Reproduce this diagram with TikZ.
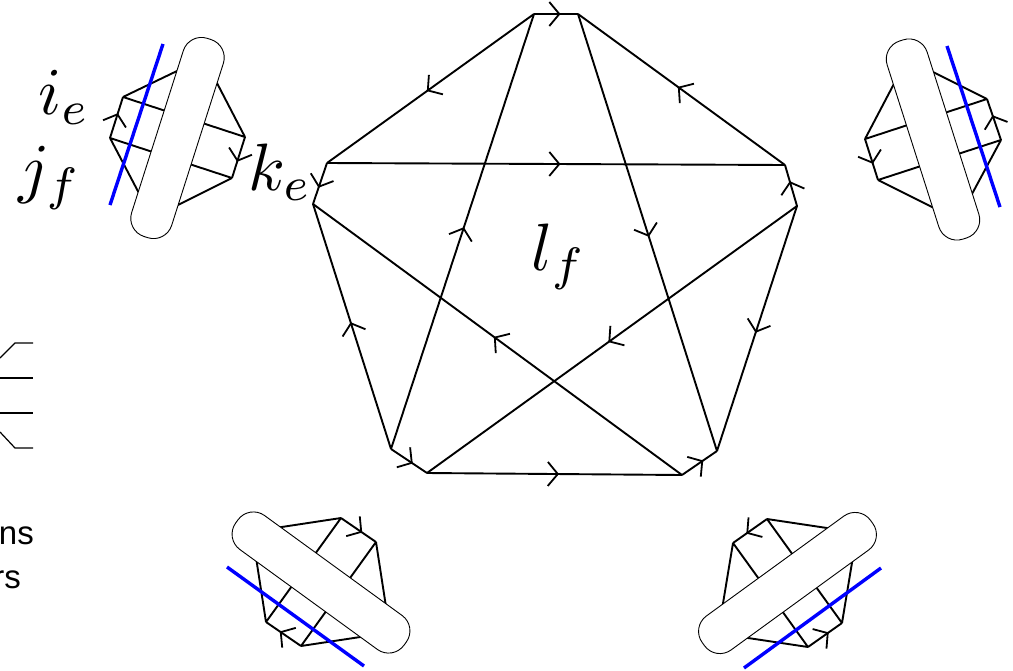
\documentclass[tikz,border=0pt]{standalone}
\usepackage{fontspec}
\setsansfont{Liberation Sans}
\usetikzlibrary{arrows.meta,decorations.markings}
\tikzset{
  edge/.style={line width=1.9pt},
  flow/.style={edge,postaction={decorate},decoration={markings,
    mark=at position 0.5 with {\arrow[line width=1.8pt,xshift=4.5pt]{Straight Barb[length=10pt,width=24pt]}}}},
  pill/.style={draw,fill=white,line width=0.9pt,rectangle,rounded corners=19pt,minimum width=208pt,minimum height=42pt,inner sep=0pt},
  cut/.style={blue,line width=3.4pt},
  idx/.style={scale=6.7,inner sep=0pt},
  word/.style={font=\sffamily\fontsize{33}{33}\selectfont,inner sep=0pt},
  stub/.style={line width=1.2pt}
}
\begin{document}
\begin{tikzpicture}[x=1pt,y=-1pt]
  \useasboundingbox (0,0) rectangle (1013,670);
  % large polygon
  \coordinate (a) at (534,14);
  \coordinate (b) at (578,14);
  \coordinate (c) at (785,165);
  \coordinate (d) at (797,206);
  \coordinate (e) at (717,451);
  \coordinate (f) at (682,475);
  \coordinate (g) at (427,473);
  \coordinate (h) at (391,449);
  \coordinate (i) at (313,204);
  \coordinate (j) at (327,163);

  \draw[flow] (a) -- (b);
  \draw[flow] (c) -- (b);
  \draw[flow] (d) -- (c);
  \draw[flow] (d) -- (e);
  \draw[flow] (f) -- (e);
  \draw[flow] (g) -- (f);
  \draw[flow] (h) -- (g);
  \draw[flow] (h) -- (i);
  \draw[flow] (j) -- (i);
  \draw[flow] (a) -- (j);
  \draw[flow] (j) -- (c);
  \draw[flow] (h) -- (a);
  \draw[flow] (b) -- (e);
  \draw[flow] (f) -- (i);
  \draw[flow] (d) -- (g);

  % top left
  \coordinate (tl1) at (204,58);
  \coordinate (tl2) at (123,97);
  \coordinate (tl3) at (110,138);
  \coordinate (tl4) at (152,218);
  \coordinate (tl5) at (232,178);
  \coordinate (tl6) at (245,137);
  \draw[edge] (tl6) -- (tl1) -- (tl2) (tl3) -- (tl4) -- (tl5) (tl2) -- (tl6) (tl3) -- (tl5);
  \draw[flow] (tl3) -- (tl2);
  \draw[flow] (tl6) -- (tl5);
  \node[pill,rotate=72.3] (captl) at (177.5,138) {};
  \coordinate (tlu) at (163,44);
  \coordinate (tlv) at (110,205);
  \draw[cut] (tlu) -- (tlv);

  % top right
  \coordinate (tr1) at (907,59);
  \coordinate (tr2) at (987,99);
  \coordinate (tr3) at (1001,140);
  \coordinate (tr4) at (958,220);
  \coordinate (tr5) at (878,180);
  \coordinate (tr6) at (865,139);
  \draw[edge] (tr6) -- (tr1) -- (tr2) (tr3) -- (tr4) -- (tr5) (tr2) -- (tr6) (tr3) -- (tr5);
  \draw[flow] (tr3) -- (tr2);
  \draw[flow] (tr6) -- (tr5);
  \node[pill,rotate=-72.3] (captr) at (933,139.5) {};
  \coordinate (tru) at (947,46);
  \coordinate (trv) at (1000,207);
  \draw[cut] (tru) -- (trv);

  % bottom left
  \coordinate (bl1) at (252,531.5);
  \coordinate (bl2) at (341,518);
  \coordinate (bl3) at (376,542);
  \coordinate (bl4) at (390,632.5);
  \coordinate (bl5) at (301,646);
  \coordinate (bl6) at (266,622);
  \draw[edge] (bl6) -- (bl1) -- (bl2) (bl3) -- (bl4) -- (bl5) (bl2) -- (bl6) (bl3) -- (bl5);
  \draw[flow] (bl2) -- (bl3);
  \draw[flow] (bl5) -- (bl6);
  \node[pill,rotate=-36] (capbl) at (321,582.5) {};
  \coordinate (blu) at (227,567);
  \coordinate (blv) at (364,666);
  \draw[cut] (blu) -- (blv);

  % bottom right
  \coordinate (br1) at (857,532.5);
  \coordinate (br2) at (767,519);
  \coordinate (br3) at (733,543);
  \coordinate (br4) at (718,633.5);
  \coordinate (br5) at (808,647);
  \coordinate (br6) at (842,623);
  \draw[edge] (br6) -- (br1) -- (br2) (br3) -- (br4) -- (br5) (br2) -- (br6) (br3) -- (br5);
  \draw[flow] (br2) -- (br3);
  \draw[flow] (br5) -- (br6);
  \node[pill,rotate=36] (capbr) at (787.5,583) {};
  \coordinate (bru) at (881,568);
  \coordinate (brv) at (744,668);
  \draw[cut] (bru) -- (brv);

  % labels
  \node[idx] (ie) at (64,97) {$i_e$};
  \node[idx] (jf) at (50,178) {$j_f$};
  \node[idx] (ke) at (280,172) {$k_e$};
  \node[idx] (lf) at (559,257) {$l_f$};

  % left edge
  \coordinate (s1) at (0,358);
  \coordinate (s2) at (15,343);
  \coordinate (s3) at (33,343);
  \coordinate (s4) at (0,378);
  \coordinate (s5) at (33,378);
  \coordinate (s6) at (0,413);
  \coordinate (s7) at (33,413);
  \coordinate (s8) at (0,432);
  \coordinate (s9) at (15,448);
  \coordinate (s10) at (33,448);
  \draw[stub] (s1) -- (s2) -- (s3);
  \draw[stub] (s4) -- (s5);
  \draw[stub] (s6) -- (s7);
  \draw[stub] (s8) -- (s9) -- (s10);
  \node[word,anchor=base east] (wordns) at (34,544) {ns};
  \node[word,anchor=base east] (wordrs) at (21,588) {rs};
\end{tikzpicture}
\end{document}
